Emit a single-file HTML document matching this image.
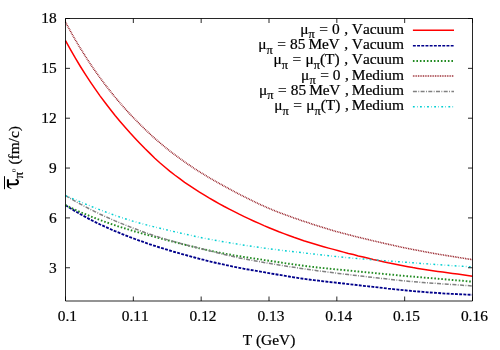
<!DOCTYPE html><html><head><meta charset="utf-8"><style>html,body{margin:0;padding:0;background:#fff}svg{display:block;will-change:transform}text{font-family:"Liberation Serif",serif;fill:#000;font-kerning:none;stroke:#000;stroke-width:0.22px}</style></head><body>
<svg width="500" height="350" viewBox="0 0 500 350">
<rect width="500" height="350" fill="#fff"/>
<polyline fill="none" stroke="#ff0000" stroke-width="1.5" points="65.5,40.6 70.5,49.6 75.4,58.2 80.4,66.5 85.4,74.4 90.3,81.9 95.3,89.2 100.2,96.1 105.2,102.8 110.2,109.3 115.1,115.5 120.1,121.4 125.1,127.2 130.0,132.8 135.0,138.2 140.0,143.4 144.9,148.5 149.9,153.4 154.8,158.2 159.8,162.7 164.8,167.0 169.7,171.1 174.7,175.0 179.7,178.7 184.6,182.3 189.6,185.7 194.5,188.9 199.5,192.1 204.5,195.1 209.4,198.1 214.4,201.0 219.4,203.8 224.3,206.5 229.3,209.1 234.3,211.7 239.2,214.2 244.2,216.6 249.1,218.9 254.1,221.2 259.1,223.4 264.0,225.6 269.0,227.7 274.0,229.7 278.9,231.7 283.9,233.6 288.9,235.5 293.8,237.3 298.8,239.0 303.7,240.7 308.7,242.3 313.7,243.8 318.6,245.2 323.6,246.7 328.6,248.1 333.5,249.4 338.5,250.7 343.5,252.1 348.4,253.4 353.4,254.6 358.3,255.9 363.3,257.1 368.3,258.3 373.2,259.5 378.2,260.6 383.2,261.7 388.1,262.8 393.1,263.8 398.0,264.8 403.0,265.8 408.0,266.7 412.9,267.6 417.9,268.4 422.9,269.2 427.8,269.9 432.8,270.7 437.8,271.4 442.7,272.1 447.7,272.8 452.6,273.4 457.6,274.1 462.6,274.8 467.5,275.5 472.5,276.2"/>
<polyline fill="none" stroke="#00008b" stroke-width="1.85" stroke-dasharray="2.9 1.3" points="65.5,205.2 70.5,208.3 75.4,211.3 80.4,214.2 85.4,216.9 90.3,219.6 95.3,222.1 100.2,224.5 105.2,226.8 110.2,229.0 115.1,231.2 120.1,233.2 125.1,235.2 130.0,237.2 135.0,239.0 140.0,240.8 144.9,242.6 149.9,244.3 154.8,245.9 159.8,247.5 164.8,249.0 169.7,250.5 174.7,252.0 179.7,253.4 184.6,254.8 189.6,256.2 194.5,257.5 199.5,258.8 204.5,260.0 209.4,261.3 214.4,262.5 219.4,263.6 224.3,264.7 229.3,265.8 234.3,266.8 239.2,267.8 244.2,268.8 249.1,269.7 254.1,270.5 259.1,271.4 264.0,272.2 269.0,273.1 274.0,274.0 278.9,274.8 283.9,275.7 288.9,276.5 293.8,277.3 298.8,278.1 303.7,278.8 308.7,279.5 313.7,280.1 318.6,280.7 323.6,281.3 328.6,281.9 333.5,282.4 338.5,283.0 343.5,283.5 348.4,284.1 353.4,284.6 358.3,285.2 363.3,285.8 368.3,286.3 373.2,286.9 378.2,287.4 383.2,288.0 388.1,288.6 393.1,289.1 398.0,289.6 403.0,290.1 408.0,290.6 412.9,291.1 417.9,291.5 422.9,291.9 427.8,292.3 432.8,292.7 437.8,293.0 442.7,293.4 447.7,293.7 452.6,293.9 457.6,294.2 462.6,294.4 467.5,294.6 472.5,294.8"/>
<polyline fill="none" stroke="#228b22" stroke-width="1.9" stroke-dasharray="1.6 1.9" points="65.5,205.2 70.5,207.6 75.4,209.9 80.4,212.1 85.4,214.2 90.3,216.3 95.3,218.2 100.2,220.1 105.2,221.9 110.2,223.7 115.1,225.3 120.1,227.0 125.1,228.5 130.0,230.0 135.0,231.5 140.0,232.9 144.9,234.3 149.9,235.6 154.8,236.9 159.8,238.3 164.8,239.6 169.7,240.8 174.7,242.1 179.7,243.4 184.6,244.7 189.6,245.9 194.5,247.1 199.5,248.3 204.5,249.5 209.4,250.5 214.4,251.6 219.4,252.6 224.3,253.6 229.3,254.5 234.3,255.4 239.2,256.2 244.2,257.0 249.1,257.7 254.1,258.5 259.1,259.2 264.0,260.0 269.0,260.7 274.0,261.5 278.9,262.2 283.9,263.0 288.9,263.7 293.8,264.4 298.8,265.1 303.7,265.8 308.7,266.4 313.7,267.0 318.6,267.6 323.6,268.1 328.6,268.6 333.5,269.1 338.5,269.6 343.5,270.0 348.4,270.5 353.4,271.0 358.3,271.5 363.3,272.0 368.3,272.5 373.2,272.9 378.2,273.4 383.2,273.9 388.1,274.4 393.1,274.8 398.0,275.3 403.0,275.8 408.0,276.2 412.9,276.6 417.9,277.1 422.9,277.5 427.8,277.9 432.8,278.3 437.8,278.7 442.7,279.1 447.7,279.6 452.6,280.0 457.6,280.4 462.6,280.8 467.5,281.3 472.5,281.7"/>
<polyline fill="none" stroke="#8e1018" stroke-width="1.55" stroke-dasharray="0.85 0.85" points="65.5,22.2 70.5,31.3 75.4,40.0 80.4,48.4 85.4,56.3 90.3,63.9 95.3,71.2 100.2,78.1 105.2,84.8 110.2,91.1 115.1,97.2 120.1,103.1 125.1,108.7 130.0,114.1 135.0,119.3 140.0,124.4 144.9,129.2 149.9,133.9 154.8,138.4 159.8,142.7 164.8,146.9 169.7,150.9 174.7,154.7 179.7,158.4 184.6,161.9 189.6,165.3 194.5,168.6 199.5,171.8 204.5,174.8 209.4,177.8 214.4,180.7 219.4,183.5 224.3,186.2 229.3,188.9 234.3,191.6 239.2,194.2 244.2,196.7 249.1,199.2 254.1,201.6 259.1,204.0 264.0,206.2 269.0,208.4 274.0,210.5 278.9,212.4 283.9,214.3 288.9,216.1 293.8,217.9 298.8,219.6 303.7,221.3 308.7,222.9 313.7,224.6 318.6,226.1 323.6,227.7 328.6,229.2 333.5,230.7 338.5,232.1 343.5,233.4 348.4,234.7 353.4,236.0 358.3,237.2 363.3,238.4 368.3,239.6 373.2,240.8 378.2,241.9 383.2,243.1 388.1,244.2 393.1,245.3 398.0,246.4 403.0,247.5 408.0,248.5 412.9,249.5 417.9,250.4 422.9,251.4 427.8,252.3 432.8,253.2 437.8,254.1 442.7,254.9 447.7,255.7 452.6,256.5 457.6,257.3 462.6,258.1 467.5,258.9 472.5,259.6"/>
<polyline fill="none" stroke="#808080" stroke-width="1.5" stroke-dasharray="4 1.4 0.9 1.4" points="65.5,195.6 70.5,198.5 75.4,201.4 80.4,204.1 85.4,206.8 90.3,209.3 95.3,211.8 100.2,214.2 105.2,216.5 110.2,218.7 115.1,220.9 120.1,223.0 125.1,225.0 130.0,226.9 135.0,228.8 140.0,230.7 144.9,232.5 149.9,234.2 154.8,235.8 159.8,237.4 164.8,239.0 169.7,240.4 174.7,241.8 179.7,243.2 184.6,244.5 189.6,245.8 194.5,247.0 199.5,248.3 204.5,249.5 209.4,250.8 214.4,252.1 219.4,253.3 224.3,254.5 229.3,255.7 234.3,256.8 239.2,257.9 244.2,258.9 249.1,259.8 254.1,260.7 259.1,261.6 264.0,262.5 269.0,263.3 274.0,264.1 278.9,264.9 283.9,265.8 288.9,266.6 293.8,267.3 298.8,268.1 303.7,268.8 308.7,269.5 313.7,270.2 318.6,270.9 323.6,271.5 328.6,272.2 333.5,272.8 338.5,273.4 343.5,274.0 348.4,274.6 353.4,275.2 358.3,275.8 363.3,276.3 368.3,276.9 373.2,277.5 378.2,278.1 383.2,278.6 388.1,279.2 393.1,279.7 398.0,280.2 403.0,280.7 408.0,281.2 412.9,281.6 417.9,282.1 422.9,282.5 427.8,282.8 432.8,283.2 437.8,283.5 442.7,283.9 447.7,284.2 452.6,284.6 457.6,284.9 462.6,285.3 467.5,285.6 472.5,286.0"/>
<polyline fill="none" stroke="#00ced1" stroke-width="1.45" stroke-dasharray="1.8 2.3 0.6 2.4" points="65.5,195.6 70.5,197.7 75.4,199.8 80.4,201.9 85.4,204.0 90.3,206.0 95.3,208.0 100.2,209.9 105.2,211.8 110.2,213.6 115.1,215.4 120.1,217.1 125.1,218.7 130.0,220.3 135.0,221.8 140.0,223.2 144.9,224.5 149.9,225.8 154.8,227.0 159.8,228.2 164.8,229.4 169.7,230.6 174.7,231.7 179.7,232.9 184.6,234.0 189.6,235.1 194.5,236.2 199.5,237.3 204.5,238.3 209.4,239.2 214.4,240.1 219.4,241.0 224.3,241.9 229.3,242.7 234.3,243.6 239.2,244.4 244.2,245.2 249.1,245.9 254.1,246.7 259.1,247.4 264.0,248.1 269.0,248.8 274.0,249.4 278.9,250.0 283.9,250.6 288.9,251.2 293.8,251.8 298.8,252.3 303.7,252.9 308.7,253.5 313.7,254.0 318.6,254.6 323.6,255.2 328.6,255.7 333.5,256.3 338.5,256.8 343.5,257.3 348.4,257.7 353.4,258.2 358.3,258.6 363.3,259.0 368.3,259.4 373.2,259.8 378.2,260.2 383.2,260.6 388.1,260.9 393.1,261.3 398.0,261.7 403.0,262.1 408.0,262.4 412.9,262.8 417.9,263.2 422.9,263.6 427.8,263.9 432.8,264.3 437.8,264.6 442.7,265.0 447.7,265.3 452.6,265.7 457.6,266.0 462.6,266.3 467.5,266.6 472.5,266.9"/>
<path d="M65.5,18.5H472.5V301.0H65.5ZM65.50,301.0v-4.5M65.50,18.5v4.5M133.33,301.0v-4.5M133.33,18.5v4.5M201.17,301.0v-4.5M201.17,18.5v4.5M269.00,301.0v-4.5M269.00,18.5v4.5M336.83,301.0v-4.5M336.83,18.5v4.5M404.67,301.0v-4.5M404.67,18.5v4.5M472.50,301.0v-4.5M472.50,18.5v4.5M65.5,267.76h4.5M472.5,267.76h-4.5M65.5,217.91h4.5M472.5,217.91h-4.5M65.5,168.06h4.5M472.5,168.06h-4.5M65.5,118.21h4.5M472.5,118.21h-4.5M65.5,68.35h4.5M472.5,68.35h-4.5M65.5,18.50h4.5M472.5,18.50h-4.5" fill="none" stroke="#000" stroke-width="0.85"/>
<text x="67.40" y="321.2" font-size="15.4" text-anchor="middle">0.1</text>
<text x="135.23" y="321.2" font-size="15.4" text-anchor="middle">0.11</text>
<text x="203.07" y="321.2" font-size="15.4" text-anchor="middle">0.12</text>
<text x="270.90" y="321.2" font-size="15.4" text-anchor="middle">0.13</text>
<text x="338.73" y="321.2" font-size="15.4" text-anchor="middle">0.14</text>
<text x="406.57" y="321.2" font-size="15.4" text-anchor="middle">0.15</text>
<text x="474.40" y="321.2" font-size="15.4" text-anchor="middle">0.16</text>
<text x="56.7" y="272.56" font-size="15.4" text-anchor="end">3</text>
<text x="56.7" y="222.71" font-size="15.4" text-anchor="end">6</text>
<text x="56.7" y="172.86" font-size="15.4" text-anchor="end">9</text>
<text x="56.7" y="123.01" font-size="15.4" text-anchor="end">12</text>
<text x="56.7" y="73.15" font-size="15.4" text-anchor="end">15</text>
<text x="56.7" y="23.30" font-size="15.4" text-anchor="end">18</text>
<text x="269" y="344.8" font-size="15.4" text-anchor="middle">T (GeV)</text>
<g transform="translate(19,189.5) rotate(-90)"><text font-size="15.4"><tspan x="10.9" y="4.0" font-size="13">π</tspan><tspan x="17.6" y="-3.2" font-size="7" stroke="none">0</tspan><tspan x="24.9" y="-0.5">(fm/c)</tspan></text><path d="M0.3,-14.5H13.3" stroke="#000" stroke-width="1" fill="none"/><path d="M3.2,-11.05 L10.2,-11.05" stroke="#000" stroke-width="2.1" fill="none"/><path d="M3.4,-12.1 C2,-12.1 1.1,-10.2 0.6,-7.7 L1.2,-7.5 C1.9,-9.2 2.6,-10 3.6,-10 Z" fill="#000"/><path d="M5.3,-11 L5.3,-3.6 C5.3,-1.2 6.7,-0.75 7.9,-0.95 C8.9,-1.15 9.4,-1.9 9.6,-2.7" stroke="#000" stroke-width="1.9" fill="none" stroke-linecap="round"/></g>
<text x="404" y="33.70" font-size="15.4" text-anchor="end">μ<tspan font-size="12.3" dy="4.5">π</tspan><tspan dy="-4.5" dx="0.7"> =</tspan> 0<tspan dx="0.7"> ,</tspan> Vacuum</text>
<path d="M412.9,30.25H454" fill="none" stroke="#ff0000" stroke-width="1.5"/>
<text x="404" y="49.00" font-size="15.4" text-anchor="end">μ<tspan font-size="12.3" dy="4.5">π</tspan><tspan dy="-4.5" dx="0.7"> =</tspan><tspan dx="0.3"> 85</tspan><tspan dx="-0.3" letter-spacing="-0.35"> MeV</tspan><tspan dx="1.1"> ,</tspan> Vacuum</text>
<path d="M412.9,45.70H454" fill="none" stroke="#00008b" stroke-width="1.5" stroke-dasharray="2.9 1.3"/>
<text x="404" y="64.30" font-size="15.4" text-anchor="end">μ<tspan font-size="12.3" dy="4.5">π</tspan><tspan dy="-4.5" dx="0.7"> =</tspan><tspan dx="0.5"> </tspan>μ<tspan font-size="12.3" dy="4.5">π</tspan><tspan dy="-4.5">(T)</tspan><tspan dx="0.7"> ,</tspan> Vacuum</text>
<path d="M412.9,61.00H454" fill="none" stroke="#228b22" stroke-width="1.9" stroke-dasharray="1.6 1.9"/>
<text x="404" y="79.60" font-size="15.4" text-anchor="end">μ<tspan font-size="12.3" dy="4.5">π</tspan><tspan dy="-4.5" dx="0.7"> =</tspan> 0<tspan dx="0.7"> ,</tspan><tspan dx="-0.8"> Medium</tspan></text>
<path d="M412.9,76.05H454" fill="none" stroke="#8e1018" stroke-width="1.55" stroke-dasharray="0.85 0.85"/>
<text x="404" y="94.90" font-size="15.4" text-anchor="end">μ<tspan font-size="12.3" dy="4.5">π</tspan><tspan dy="-4.5" dx="0.7"> =</tspan><tspan dx="0.3"> 85</tspan><tspan dx="-0.3" letter-spacing="-0.35"> MeV</tspan><tspan dx="1.1"> ,</tspan><tspan dx="-0.8"> Medium</tspan></text>
<path d="M412.9,91.50H454" fill="none" stroke="#808080" stroke-width="1.5" stroke-dasharray="4 1.4 0.9 1.4"/>
<text x="404" y="110.20" font-size="15.4" text-anchor="end">μ<tspan font-size="12.3" dy="4.5">π</tspan><tspan dy="-4.5" dx="0.7"> =</tspan><tspan dx="0.5"> </tspan>μ<tspan font-size="12.3" dy="4.5">π</tspan><tspan dy="-4.5">(T)</tspan><tspan dx="0.7"> ,</tspan><tspan dx="-0.8"> Medium</tspan></text>
<path d="M412.9,106.65H454" fill="none" stroke="#00ced1" stroke-width="1.45" stroke-dasharray="1.8 2.3 0.6 2.4"/>
</svg></body></html>
